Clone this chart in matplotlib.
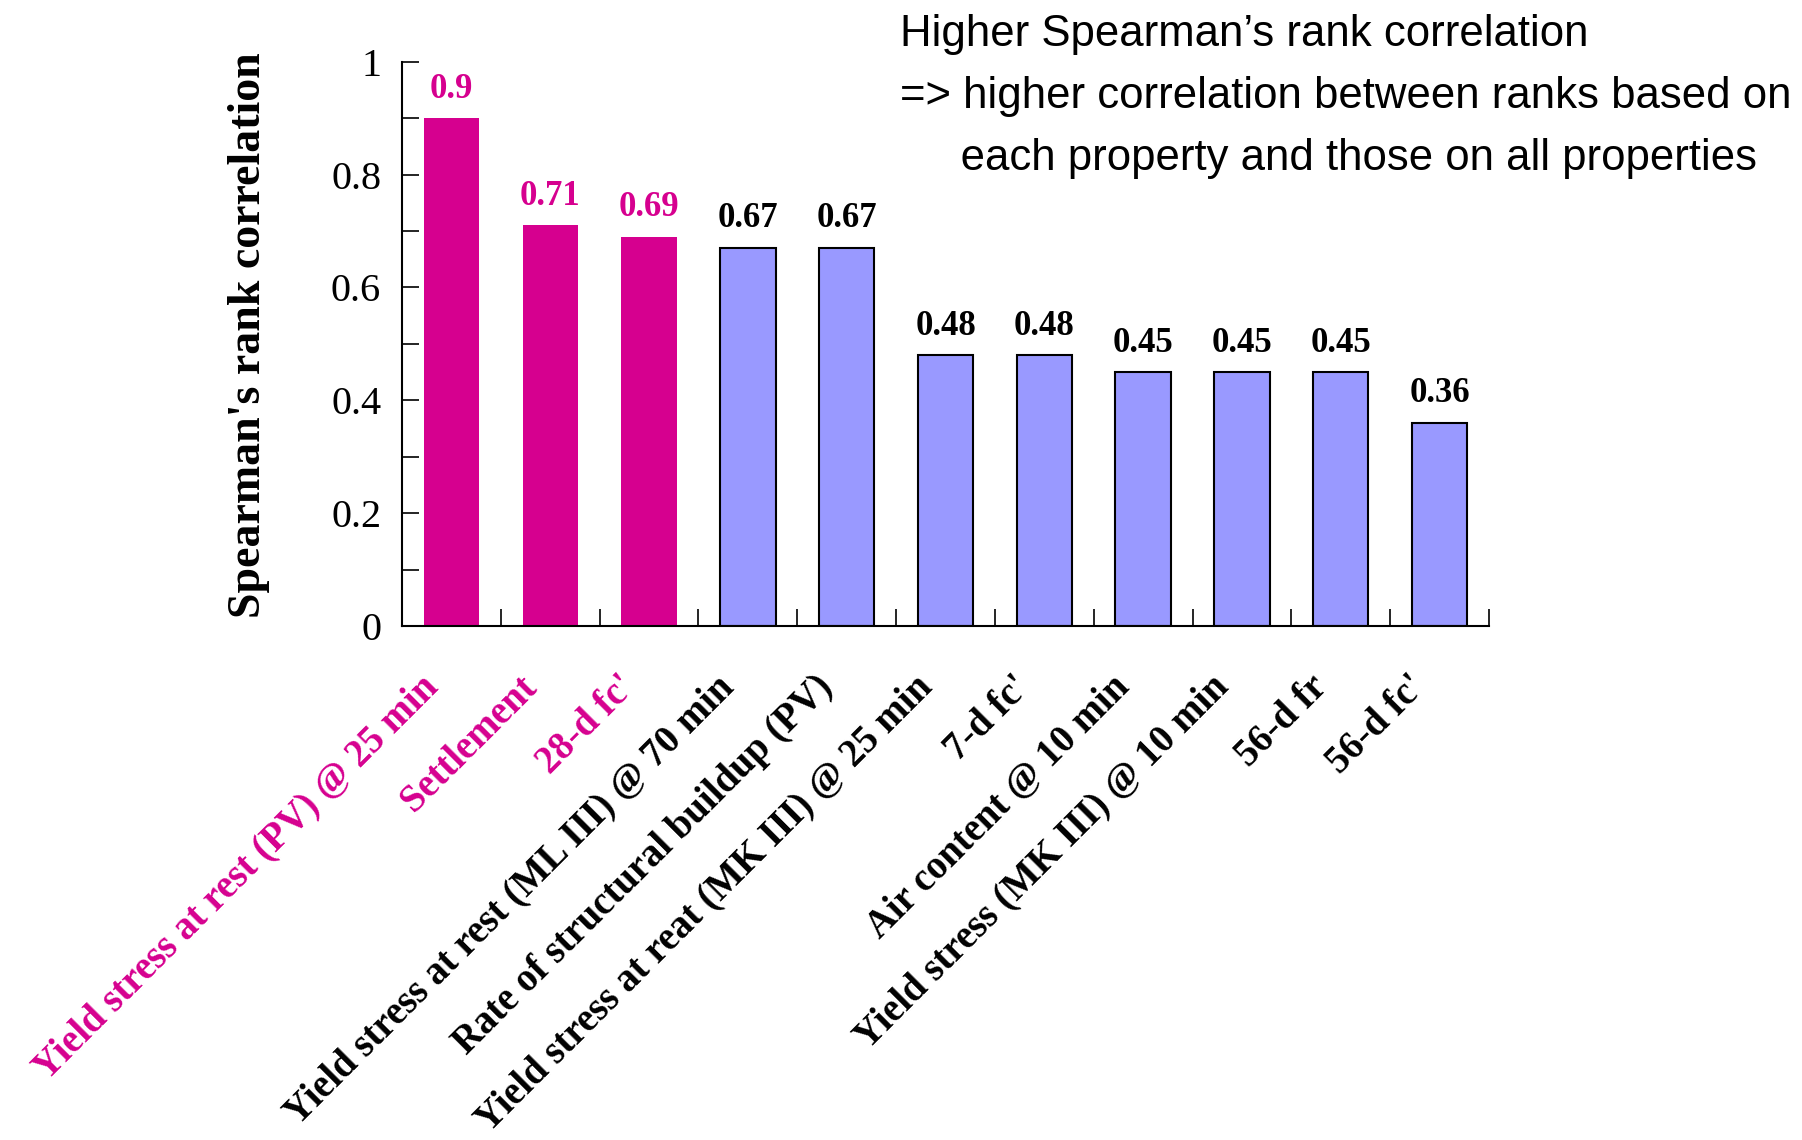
import matplotlib
matplotlib.use('Agg')
import matplotlib.pyplot as plt
import matplotlib.transforms as mtransforms
from matplotlib.ticker import FixedLocator, NullFormatter

# Spearman's rank correlation of each property against the overall ranking
properties = [
    'Yield stress at rest (PV) @ 25 min',
    'Settlement',
    "28-d fc'",
    'Yield stress at rest (ML III) @ 70 min',
    'Rate of structural buildup (PV)',
    'Yield stress at reat (MK III) @ 25 min',
    "7-d fc'",
    'Air content @ 10 min',
    'Yield stress (MK III) @ 10 min',
    '56-d fr',
    "56-d fc'",
]
rank_corr = [0.90, 0.71, 0.69, 0.67, 0.67, 0.48, 0.48, 0.45, 0.45, 0.45, 0.36]
value_text = ['0.9', '0.71', '0.69', '0.67', '0.67', '0.48', '0.48', '0.45', '0.45', '0.45', '0.36']
n_top = 3  # highest-ranked properties are highlighted

pink = '#D6008F'
blue = '#9999FF'
serif = 'Liberation Serif'

fig = plt.figure(figsize=(18.02, 11.40), dpi=100)
ax = fig.add_axes([0.2231, 0.4509, 0.6032, 0.4950])

x = list(range(len(properties)))
for i, v in enumerate(rank_corr):
    if i < n_top:
        ax.bar(i, v, width=0.56, color=pink, edgecolor='none', zorder=2)
    else:
        ax.bar(i, v, width=0.56, color=blue, edgecolor='black', linewidth=1.5, zorder=2)
    ax.text(i, v + 0.022, value_text[i], ha='center', va='bottom',
            fontsize=25, fontweight='bold', family=serif,
            color=pink if i < n_top else 'black')

ax.set_xlim(-0.5, len(properties) - 0.5)
ax.set_ylim(0, 1)

# y axis: labels every 0.2, ticks every 0.1, pointing inward
ax.set_yticks([0, 0.2, 0.4, 0.6, 0.8, 1.0])
ax.set_yticklabels(['0', '0.2', '0.4', '0.6', '0.8', '1'], family=serif, fontsize=29)
ax.yaxis.set_minor_locator(FixedLocator([0.1, 0.3, 0.5, 0.7, 0.9]))
ax.tick_params(axis='y', which='both', direction='in', length=12, width=1.2, pad=15)

# x axis: small ticks between categories only
ax.set_xticks([])
ax.xaxis.set_minor_locator(FixedLocator([k + 0.5 for k in range(-1, len(properties))]))
ax.xaxis.set_minor_formatter(NullFormatter())
ax.tick_params(axis='x', which='minor', direction='in', length=12, width=1.2)

# slanted category names hanging below the axis
offset = mtransforms.ScaledTranslation(-0.19, -40 / 72, fig.dpi_scale_trans)
label_trans = ax.get_xaxis_transform() + offset
for i, name in enumerate(properties):
    ax.text(i, 0, name, transform=label_trans, rotation=45, rotation_mode='anchor',
            ha='right', va='center', family=serif, fontsize=27.8, fontweight='bold',
            color=pink if i < n_top else 'black', clip_on=False)

for side in ['top', 'right']:
    ax.spines[side].set_visible(False)
ax.spines['left'].set_linewidth(1.5)
ax.spines['bottom'].set_linewidth(1.5)

ax.set_ylabel("Spearman's rank correlation", family=serif, fontsize=33,
              fontweight='bold', va='center')
ax.yaxis.set_label_coords(-0.141, 0.516)

fig.text(0.4995, 0.988,
         "Higher Spearman\u2019s rank correlation\n"
         "=> higher correlation between ranks based on\n"
         "     each property and those on all properties",
         ha='left', va='top', family='Liberation Sans', fontsize=31.5, linespacing=1.66)

fig.savefig('out.png', dpi=100)
